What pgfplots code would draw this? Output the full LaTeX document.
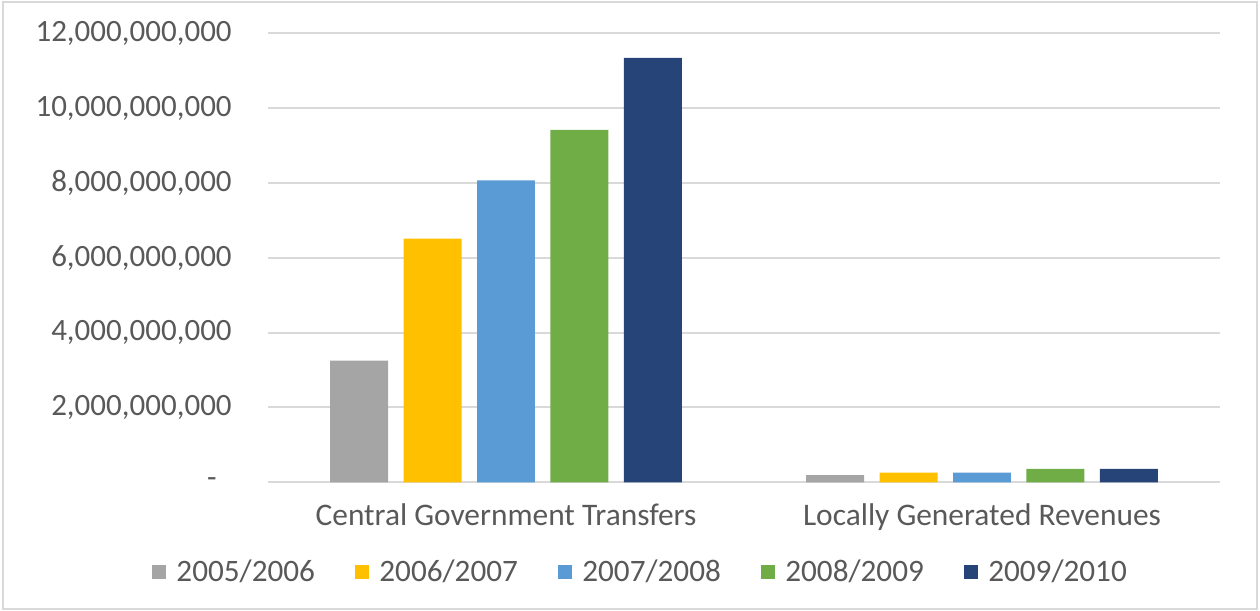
\documentclass[border=0pt]{standalone}
\usepackage{fontspec}
\setmainfont{Carlito}
\usepackage{pgfplots}
\pgfplotsset{compat=1.18}
\definecolor{cgray}{HTML}{A5A5A5}
\definecolor{cyellow}{HTML}{FFC000}
\definecolor{cblue}{HTML}{5B9BD5}
\definecolor{cgreen}{HTML}{70AD47}
\definecolor{cnavy}{HTML}{264478}
\definecolor{txtc}{HTML}{595959}
\definecolor{gridc}{HTML}{D9D9D9}
\begin{document}
\begin{tikzpicture}
\path[use as bounding box] (0,0) rectangle (630pt,305.5pt);
\draw[gridc, line width=1pt] (1.6pt,1pt) rectangle (628.4pt,304.5pt);
\begin{axis}[
  at={(134pt,64.35pt)}, anchor=south west,
  scale only axis, width=476pt, height=224.5pt,
  xmin=-0.5, xmax=1.5, ymin=0, ymax=12e9,
  axis line style={draw=none},
  major tick length=0pt,
  xmajorgrids=false,
  ymajorgrids=true, 
  major grid style={draw=gridc, line width=1pt},
  scaled y ticks=false,
  ytick={0,2e9,4e9,6e9,8e9,10e9,12e9},
  yticklabels={{-\rule{7.5pt}{0pt}},{2,000,000,000},{4,000,000,000},{6,000,000,000},{8,000,000,000},{10,000,000,000},{12,000,000,000}},
  yticklabel style={anchor=east, inner sep=0pt, xshift=-18pt, text=txtc, font=\fontsize{15.5}{18}\selectfont},
  xtick={0,1},
  xticklabels={Central Government Transfers, Locally Generated Revenues},
  xticklabel style={anchor=north, inner sep=0pt, yshift=-10.5pt, text=txtc, font=\fontsize{15.7}{18}\selectfont},
  ybar, bar width=0.1218,
  legend columns=5,
  legend style={at={(-0.1218,-0.1998)}, anchor=west, draw=none, inner sep=0pt, font=\fontsize{15.6}{18}\selectfont, text=txtc,
    nodes={inner sep=0pt},
    /tikz/every odd column/.append style={column sep=5pt},
    /tikz/every even column/.append style={column sep=20.2pt}},
  legend image code/.code={\fill[#1] (0pt,-3.5pt) rectangle (7pt,3.5pt);},
]
\addplot[fill=cgray, draw=none, bar shift=-0.3084] coordinates {(0,3250000000) (1,190000000)};
\addplot[fill=cyellow, draw=none, bar shift=-0.1542] coordinates {(0,6510000000) (1,260000000)};
\addplot[fill=cblue, draw=none, bar shift=0] coordinates {(0,8070000000) (1,260000000)};
\addplot[fill=cgreen, draw=none, bar shift=0.1542] coordinates {(0,9420000000) (1,360000000)};
\addplot[fill=cnavy, draw=none, bar shift=0.3084] coordinates {(0,11340000000) (1,360000000)};
\legend{2005/2006,2006/2007,2007/2008,2008/2009,2009/2010}
\end{axis}
\end{tikzpicture}
\end{document}
